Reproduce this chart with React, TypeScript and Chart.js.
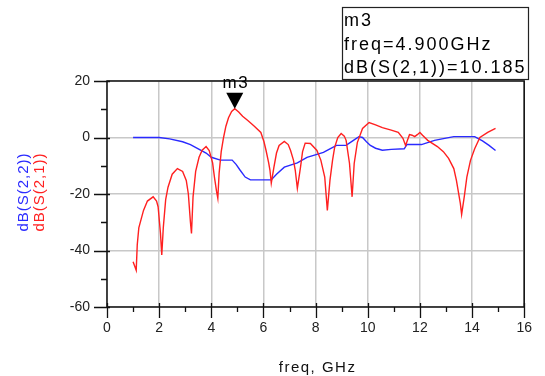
import React, { useEffect, useRef } from "react";
import { Chart, registerables } from "chart.js";

Chart.register(...registerables);

// ---- Data ----
const s21Freq = [
  1.0, 1.12, 1.16, 1.22, 1.4, 1.55, 1.77, 1.9, 1.96, 2.05, 2.1, 2.16, 2.25, 2.34, 2.5, 2.7, 2.9, 3.04,
  3.12, 3.2, 3.24, 3.3, 3.4, 3.53, 3.65, 3.8, 3.92, 4.05, 4.12, 4.2, 4.25, 4.3, 4.38, 4.47, 4.56, 4.66,
  4.78, 4.9, 5.05, 5.2, 5.4, 5.65, 5.9, 6.02, 6.1, 6.2, 6.25, 6.3, 6.4, 6.5, 6.6, 6.8, 6.95, 7.04, 7.15,
  7.22, 7.3, 7.42, 7.5, 7.6, 7.8, 8.05, 8.2, 8.35, 8.45, 8.55, 8.65, 8.73, 8.85, 8.98, 9.1, 9.17, 9.3,
  9.4, 9.48, 9.6, 9.8, 10.05, 10.3, 10.56, 10.9, 11.17, 11.35, 11.45, 11.6, 11.7, 11.8, 11.9, 12.0, 12.1,
  12.3, 12.67, 12.9, 13.1, 13.3, 13.4, 13.55, 13.6, 13.7, 13.8, 13.94, 14.1, 14.3, 14.6, 14.9,
];
const s21Db = [
  -44, -47, -38, -32, -25.8, -22.5, -21, -22.5, -24.5, -33.8, -41.6, -31.8, -22, -17.6, -13, -11, -12,
  -15.2, -20, -30, -34, -21, -12, -7, -4.5, -3.2, -4.6, -9, -14, -19, -21.5, -12.6, -5, 0, 4, 7, 9.2,
  10.185, 9, 7.5, 6, 4, 1.8, -1.5, -4.6, -9, -11.6, -16.2, -10.6, -5.5, -2.8, -1.4, -2.5, -4.6, -8,
  -11.6, -18, -10.6, -5, -2, -2.1, -4.6, -8, -14, -25.8, -15.2, -8, -3.5, 0, 1.4, 0.5, -1, -9.2, -21,
  -9.2, -1.8, 3.2, 5.3, 4.5, 3.5, 2.6, 1.8, -0.3, -2.8, 1, 0.8, 0.3, 1, 1.8, 0.8, -1, -3.2, -5, -7.4,
  -11, -15.2, -23.3, -27.2, -21, -14, -8.1, -4, 0, 1.8, 3.2,
];
const s22Freq = [
  1.0, 1.5, 2.0, 2.4, 2.9, 3.2, 3.5, 3.8, 4.0, 4.35, 4.8, 4.95, 5.1, 5.3, 5.5, 5.8, 6.3, 6.5, 6.8, 7.3,
  7.67, 8.05, 8.3, 8.55, 8.8, 9.17, 9.45, 9.66, 9.8, 9.95, 10.1, 10.3, 10.56, 10.9, 11.4, 11.5, 12.06,
  12.56, 13.0, 13.3, 14.1, 14.4, 14.65, 14.9,
];
const s22Db = [
  0, 0, 0, -0.5, -1.5, -2.5, -4, -5.5, -7, -8, -8, -9.5, -11.5, -14, -15, -15, -15, -13, -10.5, -9, -7,
  -6, -5.3, -4, -2.8, -2.8, -1, 0.3, 0, -1.5, -2.8, -3.8, -4.5, -4.2, -4, -2.5, -2.5, -1, -0.2, 0.3, 0.3,
  -1.2, -2.8, -4.6,
];
const xTickValues = [0, 2, 4, 6, 8, 10, 12, 14, 16];
const yTickValues = [-60, -40, -20, 0, 20];
const markerName = "m3";
const markerFreq = 4.9;
const markerDb = 10.185;
const markerLines = ["m3", "freq=4.900GHz", "dB(S(2,1))=10.185"];
const s22Label = "dB(S(2,2))";
const s21Label = "dB(S(2,1))";
const xTitle = "freq, GHz";

const FONT = "'Liberation Sans', Arial, sans-serif";
const RED = "#ff2020";
const BLUE = "#2a2aff";

const decorPlugin = {
  id: "decor",
  afterDraw(chart: any) {
    const { ctx, chartArea: a, scales } = chart;
    const x = scales.x;
    const y = scales.y;
    ctx.save();
    // frame
    ctx.strokeStyle = "#111";
    ctx.lineWidth = 1.5;
    ctx.strokeRect(a.left, a.top, a.right - a.left, a.bottom - a.top);
    // ticks
    ctx.lineWidth = 1.3;
    ctx.beginPath();
    for (let v = x.min; v <= x.max; v += 1) {
      const px = Math.round(x.getPixelForValue(v)) + 0.5;
      const major = v % 2 === 0;
      ctx.moveTo(px, a.bottom - (major ? 4 : 0));
      ctx.lineTo(px, a.bottom + (major ? 11 : 5));
    }
    for (let v = y.min; v <= y.max; v += 10) {
      const py = Math.round(y.getPixelForValue(v)) + 0.5;
      const major = v % 20 === 0;
      ctx.moveTo(a.left - (major ? 13 : 6), py);
      ctx.lineTo(a.left + (major ? 3 : 0), py);
    }
    ctx.stroke();

    // marker triangle
    const mx = x.getPixelForValue(markerFreq);
    const my = y.getPixelForValue(markerDb);
    ctx.fillStyle = "#000";
    ctx.beginPath();
    ctx.moveTo(mx - 8.5, my - 16);
    ctx.lineTo(mx + 8.5, my - 16);
    ctx.lineTo(mx, my);
    ctx.closePath();
    ctx.fill();
    ctx.font = `17px ${FONT}`;
    (ctx as any).letterSpacing = "1.5px";
    ctx.textAlign = "center";
    ctx.textBaseline = "alphabetic";
    ctx.fillText(markerName, mx + 1, my - 21);

    // marker readout box
    ctx.strokeStyle = "#222";
    ctx.lineWidth = 1.2;
    ctx.strokeRect(342.5, 7.5, 186, 72);
    ctx.font = `18px ${FONT}`;
    (ctx as any).letterSpacing = "2px";
    ctx.textAlign = "left";
    ctx.fillStyle = "#000";
    markerLines.forEach((t, i) => ctx.fillText(t, 344, 26 + i * 23.5));

    // x-axis title
    ctx.font = `15px ${FONT}`;
    (ctx as any).letterSpacing = "1.5px";
    ctx.textAlign = "center";
    ctx.fillStyle = "#111";
    ctx.fillText(xTitle, (a.left + a.right) / 2 + 2, 372);

    // rotated y titles
    const cy = 192;
    const drawRot = (t: string, bx: number, col: string) => {
      ctx.save();
      ctx.translate(bx, cy);
      ctx.rotate(-Math.PI / 2);
      ctx.font = `15px ${FONT}`;
      (ctx as any).letterSpacing = "1px";
      ctx.textAlign = "center";
      ctx.textBaseline = "alphabetic";
      ctx.fillStyle = col;
      ctx.fillText(t, 0, 0);
      ctx.restore();
    };
    drawRot(s22Label, 28, BLUE);
    drawRot(s21Label, 44, RED);
    ctx.restore();
  },
};

export default function App() {
  const ref = useRef<HTMLCanvasElement | null>(null);
  useEffect(() => {
    if (!ref.current) return;
    const s21 = s21Freq.map((f, i) => ({ x: f, y: s21Db[i] }));
    const s22 = s22Freq.map((f, i) => ({ x: f, y: s22Db[i] }));
    const chart = new Chart(ref.current, {
      type: "scatter",
      data: {
        datasets: [
          { label: s21Label, data: s21, showLine: true, borderColor: RED, borderWidth: 1.4, pointRadius: 0, tension: 0 },
          { label: s22Label, data: s22, showLine: true, borderColor: BLUE, borderWidth: 1.4, pointRadius: 0, tension: 0 },
        ],
      },
      options: {
        responsive: false,
        animation: false,
        devicePixelRatio: 1,
        layout: { padding: { left: 0, top: 81, right: 13, bottom: 0 } },
        plugins: { legend: { display: false }, tooltip: { enabled: false } },
        scales: {
          x: {
            type: "linear",
            min: 0,
            max: 16,
            afterFit: (s: any) => { s.height = 69; },
            afterBuildTicks: (s: any) => { s.ticks = xTickValues.map((v) => ({ value: v })); },
            ticks: { padding: 13, color: "#222", font: { family: FONT, size: 14 }, maxRotation: 0 },
            grid: { color: "#c8c8c8", lineWidth: 1.5, drawTicks: false },
            border: { display: false },
          },
          y: {
            type: "linear",
            min: -60,
            max: 20,
            afterFit: (s: any) => { s.width = 107; },
            afterBuildTicks: (s: any) => { s.ticks = yTickValues.map((v) => ({ value: v })); },
            ticks: { padding: 17, color: "#222", font: { family: FONT, size: 14 } },
            grid: { color: "#c8c8c8", lineWidth: 1.5, drawTicks: false },
            border: { display: false },
          },
        },
      },
      plugins: [decorPlugin],
    });
    return () => chart.destroy();
  }, []);
  return (
    <div style={{ position: "absolute", left: 0, top: 0, width: 545, height: 376, background: "#fff" }}>
      <canvas ref={ref} width={545} height={376} style={{ width: 545, height: 376 }} />
    </div>
  );
}
